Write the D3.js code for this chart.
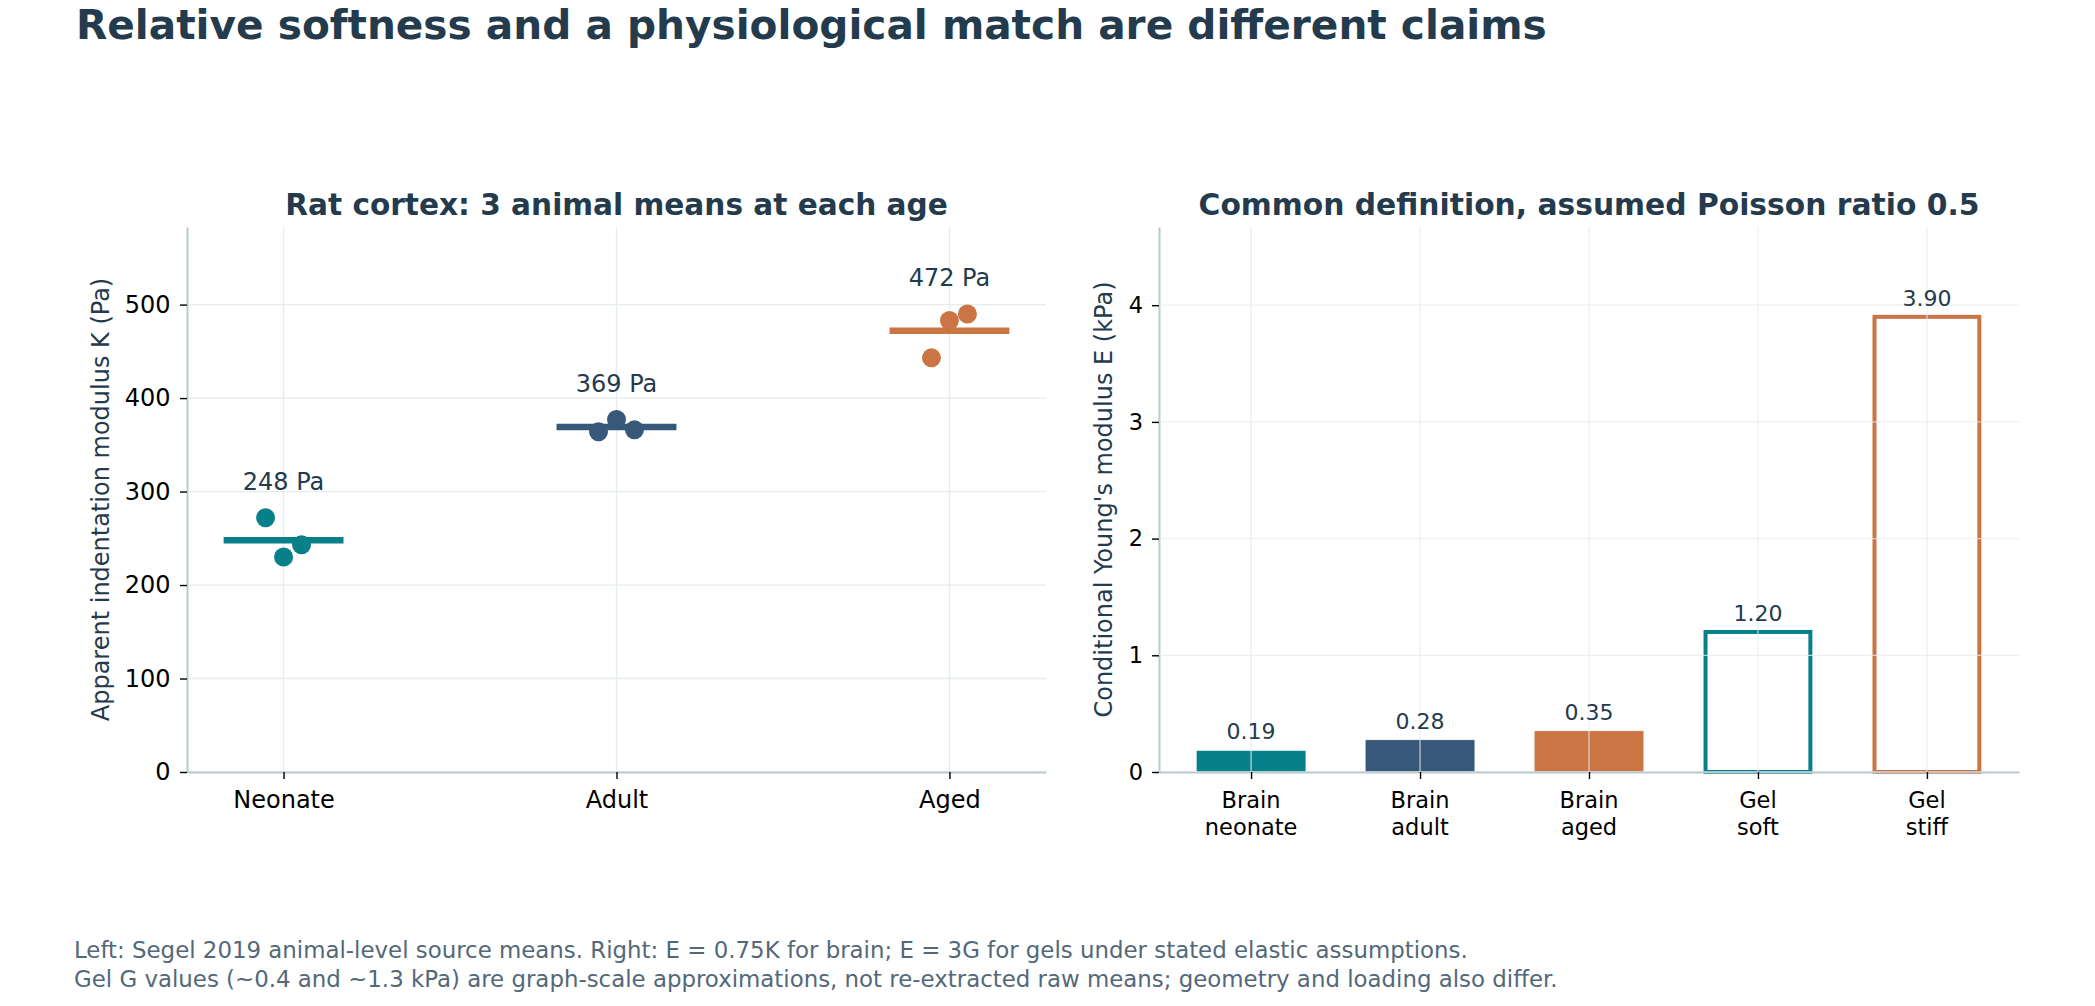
<!DOCTYPE html>
<html><head><meta charset="utf-8">
<script src="https://cdn.jsdelivr.net/npm/d3@7"></script>
<style>body{margin:0;background:#fff} text{font-family:"DejaVu Sans",sans-serif}</style>
</head><body><svg id="c" width="2095" height="1006"></svg>
<script>
// ---- data ----
const ages = ["Neonate", "Adult", "Aged"];
const animalK = [[272, 230, 243], [364, 377, 366], [443, 483, 490]];
const meanK = [248, 369, 472];
const jitter = [-0.054, 0, 0.054];
const kTicks = [0, 100, 200, 300, 400, 500];
const barCats = [["Brain", "neonate"], ["Brain", "adult"], ["Brain", "aged"], ["Gel", "soft"], ["Gel", "stiff"]];
const barE = [0.186, 0.277, 0.354, 1.20, 3.90];
const barFilled = [true, true, true, false, false];
const eTicks = [0, 1, 2, 3, 4];
const ageColors = ["#08808a", "#375878", "#ca7543"];
const barColors = ["#08808a", "#375878", "#ca7543", "#08808a", "#ca7543"];
const titleText = "Relative softness and a physiological match are different claims";
const leftTitle = "Rat cortex: 3 animal means at each age";
const rightTitle = "Common definition, assumed Poisson ratio 0.5";
const leftYLabel = "Apparent indentation modulus K (Pa)";
const rightYLabel = "Conditional Young's modulus E (kPa)";
const footer = ["Left: Segel 2019 animal-level source means. Right: E = 0.75K for brain; E = 3G for gels under stated elastic assumptions.",
  "Gel G values (~0.4 and ~1.3 kPa) are graph-scale approximations, not re-extracted raw means; geometry and loading also differ."];

const ink = "#243a4d", gridC = "#e5eced", spineC = "#bccad0";
const svg = d3.select("#c");
function fit(t, w) { const L = t.node().getComputedTextLength(); const f = parseFloat(t.attr("font-size")); t.attr("font-size", f * w / L); }

// title
fit(svg.append("text").attr("x", 76).attr("y", 39).attr("font-size", 42).attr("font-weight", "bold").attr("fill", ink).text(titleText), 1471);

function styleAxis(g, fs) {
  g.select(".domain").attr("stroke", spineC).attr("stroke-width", 2);
  g.selectAll(".tick line").attr("stroke", "#000").attr("stroke-width", 1.4);
  g.selectAll(".tick text").attr("font-size", fs).attr("fill", "#000").attr("font-family", "DejaVu Sans");
}

// ---- left panel ----
const xL = d3.scaleLinear().domain([-0.29, 2.29]).range([187, 1046]);
const yL = d3.scaleLinear().domain([0, 583]).range([772, 227]);
const gL = svg.append("g");
gL.append("g").selectAll("line").data(kTicks).join("line")
  .attr("x1", xL.range()[0]).attr("x2", xL.range()[1]).attr("y1", d => yL(d)).attr("y2", d => yL(d))
  .attr("stroke", gridC).attr("stroke-width", 1.3);
gL.append("g").selectAll("line").data(ages).join("line")
  .attr("x1", (d, i) => xL(i)).attr("x2", (d, i) => xL(i)).attr("y1", yL.range()[0]).attr("y2", yL.range()[1])
  .attr("stroke", gridC).attr("stroke-width", 1.3);
const axLy = gL.append("g").attr("transform", `translate(${xL.range()[0]},0)`)
  .call(d3.axisLeft(yL).tickValues(kTicks).tickSize(7).tickSizeOuter(0).tickPadding(9.5));
styleAxis(axLy, 24);
const axLx = gL.append("g").attr("transform", `translate(0,${yL.range()[0]})`)
  .call(d3.axisBottom(xL).tickValues([0, 1, 2]).tickFormat(i => ages[i]).tickSize(7).tickSizeOuter(0).tickPadding(11.5));
styleAxis(axLx, 24);
// means
gL.append("g").selectAll("line").data(meanK).join("line")
  .attr("x1", (d, i) => xL(i - 0.18)).attr("x2", (d, i) => xL(i + 0.18)).attr("y1", d => yL(d)).attr("y2", d => yL(d))
  .attr("stroke", (d, i) => ageColors[i]).attr("stroke-width", 6.5);
// points
animalK.forEach((arr, i) => {
  gL.append("g").selectAll("circle").data(arr).join("circle")
    .attr("cx", (d, j) => xL(i + jitter[j])).attr("cy", d => yL(d)).attr("r", 9.5).attr("fill", ageColors[i]);
});
// mean labels
gL.append("g").selectAll("text").data(meanK).join("text")
  .attr("x", (d, i) => xL(i)).attr("y", (d, i) => yL(d3.max(animalK[i])) - 28)
  .attr("text-anchor", "middle").attr("font-size", 24).attr("fill", ink).text(d => `${d} Pa`);
fit(gL.append("text").attr("x", (xL.range()[0] + xL.range()[1]) / 2).attr("y", 215).attr("text-anchor", "middle")
  .attr("font-size", 30).attr("font-weight", "bold").attr("fill", ink).text(leftTitle), 663);
gL.append("text").attr("transform", `translate(109,${(yL.range()[0] + yL.range()[1]) / 2}) rotate(-90)`)
  .attr("text-anchor", "middle").attr("font-size", 24).attr("fill", ink).text(leftYLabel);

// ---- right panel ----
const xR = d3.scaleLinear().domain([-0.545, 4.545]).range([1159, 2019]);
const yR = d3.scaleLinear().domain([0, 4.67]).range([772, 227]);
const bw = 0.65;
const gR = svg.append("g");
const axRy = gR.append("g").attr("transform", `translate(${xR.range()[0]},0)`)
  .call(d3.axisLeft(yR).tickValues(eTicks).tickFormat(d3.format("d")).tickSize(7).tickSizeOuter(0).tickPadding(9));
styleAxis(axRy, 22.5);
gR.append("g").selectAll("rect").data(barE).join("rect")
  .attr("x", (d, i) => barFilled[i] ? xR(i - bw / 2) : xR(i - bw / 2) + 2.5)
  .attr("width", (d, i) => barFilled[i] ? xR(bw) - xR(0) : xR(bw) - xR(0) - 5)
  .attr("y", (d, i) => yR(d)).attr("height", d => yR(0) - yR(d))
  .attr("fill", (d, i) => barFilled[i] ? barColors[i] : "#fff")
  .attr("stroke", (d, i) => barFilled[i] ? "#fff" : barColors[i])
  .attr("stroke-width", (d, i) => barFilled[i] ? 0.8 : 4);
// grid over bars
gR.append("g").selectAll("line").data(eTicks).join("line")
  .attr("x1", xR.range()[0]).attr("x2", xR.range()[1]).attr("y1", d => yR(d)).attr("y2", d => yR(d))
  .attr("stroke", gridC).attr("stroke-width", 1.3).attr("opacity", 0.75);
gR.append("g").selectAll("line").data(barE).join("line")
  .attr("x1", (d, i) => xR(i)).attr("x2", (d, i) => xR(i)).attr("y1", yR.range()[0]).attr("y2", yR.range()[1])
  .attr("stroke", gridC).attr("stroke-width", 1.3).attr("opacity", 0.75);
const axRx = gR.append("g").attr("transform", `translate(0,${yR.range()[0]})`)
  .call(d3.axisBottom(xR).tickValues([0, 1, 2, 3, 4]).tickFormat("").tickSize(7).tickSizeOuter(0));
styleAxis(axRx, 22.5);
gR.append("g").selectAll("text").data(barCats).join("text")
  .attr("x", (d, i) => xR(i)).attr("y", 808).attr("text-anchor", "middle").attr("font-size", 22.5).attr("fill", "#000")
  .each(function (d, i) {
    d3.select(this).selectAll("tspan").data(d).join("tspan").attr("x", xR(i)).attr("dy", (t, k) => k ? 26.7 : 0).text(t => t);
  });
gR.append("g").selectAll("text").data(barE).join("text")
  .attr("x", (d, i) => xR(i)).attr("y", d => yR(d) - 11).attr("text-anchor", "middle")
  .attr("font-size", 22).attr("fill", ink).text(d => d3.format(".2f")(d));
fit(gR.append("text").attr("x", (xR.range()[0] + xR.range()[1]) / 2).attr("y", 215).attr("text-anchor", "middle")
  .attr("font-size", 30).attr("font-weight", "bold").attr("fill", ink).text(rightTitle), 781);
gR.append("text").attr("transform", `translate(1112,${(yR.range()[0] + yR.range()[1]) / 2}) rotate(-90)`)
  .attr("text-anchor", "middle").attr("font-size", 24).attr("fill", ink).text(rightYLabel);

// footer
footer.forEach((s, i) => {
  fit(svg.append("text").attr("x", 74).attr("y", 957.5 + i * 29.5).attr("font-size", 22).attr("fill", "#536878").text(s), i ? 1485 : 1395);
});
</script></body></html>
